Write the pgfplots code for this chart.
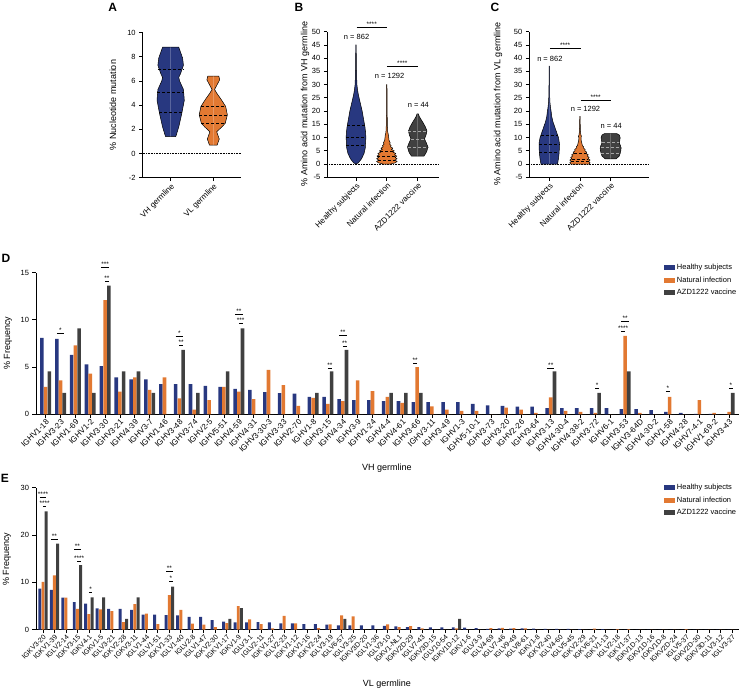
\documentclass[border=0pt]{standalone}
\usepackage{fontspec}
\setmainfont{Liberation Sans}
\usepackage{pgfplots}
\usepackage{pgfplotstable}
\pgfplotsset{compat=1.18}
\definecolor{hblue}{RGB}{40,56,128}
\definecolor{norange}{RGB}{226,121,50}
\definecolor{adark}{RGB}{64,64,64}
\newcommand{\fs}[1]{\fontsize{#1}{#1}\selectfont}

\pgfplotsset{
  panel/.style={
    scale only axis, axis lines=left, axis line style={-, line width=0.8pt},
    tick align=outside, major tick length=3.5pt, tick style={black, line width=0.8pt},
    /pgf/number format/assume math mode=true,
    ticklabel style={font=\fs{7.5}},
    clip=false,
  },
}

% violins: columns y w (half width)
\pgfplotstableread{
y w
1.4 0
1.4 0.12
2.2 0.19
3.3 0.26
4.4 0.32
5.3 0.30
6.0 0.21
6.3 0.19
6.6 0.23
7.3 0.30
7.9 0.28
8.5 0.22
8.8 0.19
8.8 0
}\vAH
\pgfplotstableread{
y w
0.7 0
0.7 0.09
1.2 0.14
1.5 0.11
1.8 0.08
2.2 0.2
2.5 0.28
3.2 0.33
3.9 0.29
4.5 0.18
5.0 0.08
5.3 0.03
5.7 0.09
6.1 0.15
6.4 0.13
6.4 0
}\vAL
\pgfplotstableread{
y w
0 0
0.5 0.08
2 0.18
4 0.26
6 0.30
8 0.31
10 0.32
12 0.31
14 0.29
16 0.26
18 0.23
20 0.20
22 0.16
24 0.12
26 0.08
28 0.05
30 0.03
33 0.02
38 0.012
45 0.005
45 0
}\vBH
\pgfplotstableread{
y w
0 0
0 0.12
0.5 0.28
1 0.33
1.5 0.26
2 0.33
2.5 0.27
3 0.32
3.5 0.25
4 0.29
4.5 0.2
5 0.24
5.5 0.15
6 0.19
6.5 0.12
7 0.14
7.5 0.09
8 0.11
9 0.07
10 0.06
11 0.05
12 0.03
14 0.02
18 0.012
22 0.008
30 0.004
30 0
}\vBN
\pgfplotstableread{
y w
3 0
3 0.2
4 0.26
5 0.3
6.5 0.33
8 0.28
9.5 0.22
11 0.27
12.5 0.3
14 0.25
15.5 0.18
17 0.1
18 0.05
19 0.02
19 0
}\vBA
\pgfplotstableread{
y w
0 0
0 0.27
2 0.30
4 0.32
6 0.33
8 0.33
10 0.30
12 0.24
14 0.18
16 0.12
18 0.08
20 0.06
21 0.045
23 0.025
26 0.012
30 0.008
37 0.004
37 0
}\vCH
\pgfplotstableread{
y w
0 0
0 0.30
0.5 0.33
1 0.28
1.5 0.33
2 0.27
2.5 0.3
3 0.24
3.5 0.27
4 0.2
4.5 0.22
5 0.16
5.5 0.17
6 0.12
6.5 0.12
7 0.08
8 0.06
9 0.04
10 0.035
10.5 0.05
11 0.03
12 0.02
14 0.012
18 0.004
18 0
}\vCN
\pgfplotstableread{
y w
2 0
2 0.18
3 0.28
4 0.31
5 0.33
6 0.34
7 0.32
8 0.28
9 0.3
10 0.31
11 0.28
11.5 0.2
11.5 0
}\vCA

% VH germline frequencies
\pgfplotstableread{
i h n a
1 8.1 2.9 4.55
2 8.0 3.6 2.27
3 6.3 7.3 9.09
4 5.3 4.3 2.27
5 5.1 12.1 13.64
6 3.9 2.4 4.55
7 3.7 3.9 4.55
8 3.7 2.6 2.27
9 3.2 3.9 0
10 3.2 1.7 6.82
11 3.2 0.5 2.27
12 3.0 1.5 0
13 2.9 2.9 4.55
14 2.7 2.4 9.09
15 2.6 1.6 0
16 2.35 4.7 0
17 2.25 3.1 0
18 2.2 0.9 0
19 1.85 1.75 2.27
20 1.85 1.1 4.55
21 1.6 1.4 6.82
22 1.5 3.6 0
23 1.5 2.45 0
24 1.4 1.85 2.27
25 1.4 1.2 2.27
26 1.3 5.0 2.27
27 1.3 0.85 0
28 1.3 0.5 0
29 1.3 0.35 0
30 1.1 0.35 0
31 0.95 0 0
32 0.9 0.7 0
33 0.8 0.5 0
34 0.8 0.15 0
35 0.65 1.8 4.55
36 0.65 0.35 0
37 0.65 0.25 0
38 0.65 0.15 2.27
39 0.65 0 0
40 0.55 8.3 4.55
41 0.55 0.15 0
42 0.45 0 0
43 0.25 1.85 0
44 0.15 0 0
45 0.05 1.5 0
46 0.05 0.15 0
47 0 0.25 2.27
}\tD

% VL germline frequencies
\pgfplotstableread{
i h n a
1 8.7 10.1 25.0
2 8.4 11.5 18.18
3 6.8 6.8 0
4 5.8 4.4 13.64
5 5.5 3.3 6.82
6 4.5 4.3 6.82
7 4.4 3.9 0
8 4.4 1.6 2.27
9 4.2 5.4 6.82
10 3.2 3.4 0
11 3.2 1.2 0
12 3.1 7.3 9.09
13 3.0 4.2 0
14 2.7 1.3 0
15 2.7 1.05 0
16 2.0 0.55 0
17 1.7 1.4 2.27
18 1.55 5.0 4.55
19 1.55 2.2 0
20 1.6 1.2 0
21 1.55 0.3 0
22 1.35 2.9 0
23 1.35 1.35 0
24 1.2 0 0
25 1.2 0.35 0
26 1.05 1.1 0
27 0.9 3.0 2.27
28 0.9 2.8 0
29 0.9 0 0
30 0.9 0 0
31 0.8 1.1 0
32 0.7 0.55 0
33 0.55 0.75 0
34 0.55 0.3 0
35 0.5 0 0
36 0.5 0 0
37 0.5 0.3 2.27
38 0.45 0 0
39 0.35 0 0
40 0.2 0.35 0
41 0.3 0.4 0
42 0.25 0.35 0
43 0.3 0.3 0
44 0.25 0 0
45 0.2 0 0
46 0.2 0 0
47 0.2 0 0
48 0.1 0 0
49 0 0.25 0
50 0.1 0 0
51 0 0.1 0
52 0 0.1 0
53 0 0 0
54 0 0 0
55 0 0 0
56 0 0 0
57 0 0.1 0
58 0 0 0
59 0 0 0
60 0 0 0
61 0 0 0
}\tE

\newcommand{\violin}[3]{%
  \addplot[fill=#3, draw=black, line width=0.5pt, forget plot] table[x expr=#1+\thisrow{w}, y=y]{#2};
  \addplot[fill=#3, draw=black, line width=0.5pt, forget plot] table[x expr=#1-\thisrow{w}, y=y]{#2};
}
\newcommand{\qline}[4]{% x0 y halfwidth color
  \addplot[densely dashed, #4, line width=0.5pt, forget plot] coordinates {({#1-#3},#2) ({#1+#3},#2)};
}
\newcommand{\sig}[4]{%
  \addplot[black, line width=0.7pt, forget plot] coordinates {(#1,#3) (#2,#3)}
    node[pos=0.5, anchor=base, inner sep=0pt, yshift=0.8pt, font=\fs{6.5}] {#4};
}

\begin{document}
\begin{tikzpicture}
\useasboundingbox (0pt,0pt) rectangle (740pt,689pt);

% ---------------- Panel A
\begin{axis}[panel, at={(142.7pt,511.3pt)}, anchor=south west, width=98.3pt, height=145pt,
  xmin=0.344, xmax=2.65, ymin=-2, ymax=10, ytick={-2,0,...,10},
  xtick={1,2}, xticklabels={VH germline, VL germline},
  xticklabel style={rotate=45, anchor=north east, inner sep=1pt, font=\fs{8}}]
\addplot[densely dotted, black, line width=0.6pt, forget plot] coordinates {(0.344,0) (2.65,0)};
\violin{1}{\vAH}{hblue}
\violin{2}{\vAL}{norange}
\qline{1}{7.0}{0.30}{black}
\qline{1}{5.05}{0.31}{black}
\qline{1}{3.4}{0.27}{black}
\qline{2}{3.9}{0.29}{black}
\qline{2}{3.2}{0.33}{black}
\qline{2}{2.5}{0.28}{black}
\end{axis}
\node[font=\bfseries\fs{12}] at (112.7pt,681.7pt) {A};
\node[rotate=90, font=\fs{9}] at (113pt,584pt) {\% Nucleotide mutation};

% ---------------- Panel B
\begin{axis}[panel, at={(327.3pt,511.7pt)}, anchor=south west, width=111.7pt, height=145.6pt,
  xmin=0.07, xmax=3.69, ymin=-5, ymax=50, ytick={-5,0,...,50},
  xtick={1,2,3}, xticklabels={Healthy subjects, Natural infection, AZD1222 vaccine},
  xticklabel style={rotate=45, anchor=north east, inner sep=1pt, font=\fs{8}}]
\addplot[densely dotted, black, line width=0.6pt, forget plot] coordinates {(0.07,0) (3.69,0)};
\violin{1}{\vBH}{hblue}
\violin{2}{\vBN}{norange}
\violin{3}{\vBA}{adark}
\qline{1}{14.7}{0.28}{black}
\qline{1}{10.3}{0.32}{black}
\qline{1}{7.0}{0.31}{black}
\qline{2}{4.8}{0.22}{black}
\qline{2}{3.1}{0.31}{black}
\qline{2}{1.6}{0.28}{black}
\qline{3}{12.3}{0.30}{gray!70}
\qline{3}{9.3}{0.23}{gray!70}
\qline{3}{6.2}{0.33}{gray!70}
\sig{1.02}{2.0}{51.5}{****}
\sig{2.0}{3.0}{36.8}{****}
\node[font=\fs{7.5}] at (axis cs:1.02,48.1) {n = 862};
\node[font=\fs{7.5}] at (axis cs:2.09,33.3) {n = 1292};
\node[font=\fs{7.5}] at (axis cs:3.02,22.2) {n = 44};
\end{axis}
\node[font=\bfseries\fs{12}] at (299pt,682pt) {B};
\node[rotate=90, font=\fs{9}] at (305pt,585pt) {\% Amino acid mutation from VH germline};

% ---------------- Panel C
\begin{axis}[panel, at={(529.3pt,511.7pt)}, anchor=south west, width=119.7pt, height=145.6pt,
  xmin=0.35, xmax=4.25, ymin=-5, ymax=50, ytick={-5,0,...,50},
  xtick={1,2,3}, xticklabels={Healthy subjects, Natural infection, AZD1222 vaccine},
  xticklabel style={rotate=45, anchor=north east, inner sep=1pt, font=\fs{8}}]
\addplot[densely dotted, black, line width=0.6pt, forget plot] coordinates {(0.35,0) (4.25,0)};
\violin{1}{\vCH}{hblue}
\violin{2}{\vCN}{norange}
\violin{3}{\vCA}{adark}
\qline{1}{10.8}{0.28}{black}
\qline{1}{7.5}{0.33}{black}
\qline{1}{4.3}{0.32}{black}
\qline{2}{4.0}{0.20}{black}
\qline{2}{2.0}{0.27}{black}
\qline{2}{1.0}{0.28}{black}
\qline{3}{8.2}{0.28}{gray!70}
\qline{3}{6.2}{0.33}{gray!70}
\qline{3}{4.2}{0.31}{gray!70}
\sig{1.02}{2.02}{43.6}{****}
\sig{2.02}{3.0}{24.2}{****}
\node[font=\fs{7.5}] at (axis cs:1.02,39.6) {n = 862};
\node[font=\fs{7.5}] at (axis cs:2.18,20.8) {n = 1292};
\node[font=\fs{7.5}] at (axis cs:3.02,14.4) {n = 44};
\end{axis}
\node[font=\bfseries\fs{12}] at (495pt,682pt) {C};
\node[rotate=90, font=\fs{9}] at (498pt,585pt) {\% Amino acid mutation from VL germline};

% ---------------- Panel D
\begin{axis}[panel, at={(36pt,274.7pt)}, anchor=south west, width=703pt, height=141.6pt,
  xmin=0.35, xmax=47.67, ymin=0, ymax=15, ytick={0,5,10,15},
  xtick={1,...,47},
  xticklabels={IGHV1-18,IGHV3-23,IGHV1-69,IGHV1-2,IGHV3-30,IGHV3-21,IGHV4-39,IGHV3-7,IGHV1-46,IGHV3-48,IGHV3-74,IGHV2-5,IGHV5-51,IGHV4-59,IGHV4-31,IGHV3-30-3,IGHV3-33,IGHV2-70,IGHV1-8,IGHV3-15,IGHV4-34,IGHV3-9,IGHV1-24,IGHV4-4,IGHV4-61,IGHV3-66,IGHV3-11,IGHV3-49,IGHV1-3,IGHV5-10-1,IGHV3-73,IGHV3-20,IGHV2-26,IGHV3-64,IGHV3-13,IGHV4-30-4,IGHV4-38-2,IGHV3-72,IGHV6-1,IGHV3-53,IGHV3-64D,IGHV4-30-2,IGHV1-58,IGHV4-28,IGHV7-4-1,IGHV1-69-2,IGHV3-43},
  xticklabel style={rotate=45, anchor=north east, inner sep=0.5pt, font=\fs{8}},
  legend style={at={(0.893,1.075)}, anchor=north west, draw=none, fill=none, font=\fs{7.5}, row sep=1.5pt, inner sep=0pt, cells={anchor=west}},
  legend image code/.code={\fill[#1] (0pt,-2.5pt) rectangle (11pt,2.5pt);}]
\addplot[ybar, bar width=0.24, bar shift=-0.25, fill=hblue, draw=none] table[x=i, y=h]{\tD};
\addlegendentry{Healthy subjects}
\addplot[ybar, bar width=0.24, bar shift=0, fill=norange, draw=none] table[x=i, y=n]{\tD};
\addlegendentry{Natural infection}
\addplot[ybar, bar width=0.24, bar shift=0.25, fill=adark, draw=none] table[x=i, y=a]{\tD};
\addlegendentry{AZD1222 vaccine}
\sig{1.75}{2.25}{8.55}{*}
\sig{4.75}{5.25}{15.6}{***}
\sig{5.0}{5.25}{14.1}{**}
\sig{9.75}{10.25}{8.3}{*}
\sig{10.0}{10.25}{7.3}{**}
\sig{13.75}{14.25}{10.6}{**}
\sig{14.0}{14.25}{9.6}{***}
\sig{20.0}{20.25}{4.85}{**}
\sig{20.75}{21.25}{8.4}{**}
\sig{21.0}{21.25}{7.2}{**}
\sig{25.75}{26.0}{5.35}{**}
\sig{34.75}{35.25}{4.85}{**}
\sig{38.0}{38.25}{2.75}{*}
\sig{39.75}{40.25}{9.8}{**}
\sig{39.75}{40.0}{8.75}{****}
\sig{42.75}{43.0}{2.4}{*}
\sig{47.0}{47.25}{2.75}{*}
\end{axis}
\node[font=\bfseries\fs{12}] at (6pt,431pt) {D};
\node[rotate=90, font=\fs{9}] at (8pt,346pt) {\% Frequency};
\node[font=\fs{9}] at (387pt,221pt) {VH germline};

% ---------------- Panel E
\begin{axis}[panel, at={(36pt,59.3pt)}, anchor=south west, width=703pt, height=142pt,
  xmin=0.39, xmax=61.6, ymin=0, ymax=30, ytick={0,10,20,30},
  xtick={1,...,61},
  xticklabels={IGKV3-20,IGKV1-39,IGLV2-14,IGKV3-15,IGKV4-1,IGKV1-5,IGLV3-21,IGKV2-28,IGKV3-11,IGLV1-44,IGLV1-51,IGKV1-33,IGLV1-40,IGLV2-8,IGLV1-47,IGKV2-30,IGKV1-17,IGKV1-9,IGLV3-1,IGLV2-11,IGKV1-27,IGLV2-23,IGKV1-12,IGKV1-16,IGKV2-24,IGLV3-19,IGLV6-57,IGLV3-25,IGKV3D-20,IGLV1-36,IGLV3-10,IGKV1-NL1,IGKV2D-29,IGLV7-43,IGKV3D-15,IGLV10-54,IGKV1D-12,IGKV1-6,IGLV3-9,IGLV4-69,IGLV7-46,IGLV9-49,IGLV8-61,IGKV1-8,IGKV2-40,IGLV4-60,IGLV5-45,IGKV2-29,IGKV6-21,IGKV1-13,IGLV2-18,IGKV1-37,IGKV1D-13,IGKV1D-16,IGKV1D-8,IGKV2D-24,IGLV5-37,IGKV2D-30,IGKV3D-11,IGLV3-12,IGLV3-27},
  xticklabel style={rotate=45, anchor=north east, inner sep=0.5pt, font=\fs{7}},
  legend style={at={(0.893,1.04)}, anchor=north west, draw=none, fill=none, font=\fs{7.5}, row sep=1.5pt, inner sep=0pt, cells={anchor=west}},
  legend image code/.code={\fill[#1] (0pt,-2.5pt) rectangle (11pt,2.5pt);}]
\addplot[ybar, bar width=0.26, bar shift=-0.28, fill=hblue, draw=none] table[x=i, y=h]{\tE};
\addlegendentry{Healthy subjects}
\addplot[ybar, bar width=0.26, bar shift=0, fill=norange, draw=none] table[x=i, y=n]{\tE};
\addlegendentry{Natural infection}
\addplot[ybar, bar width=0.26, bar shift=0.28, fill=adark, draw=none] table[x=i, y=a]{\tE};
\addlegendentry{AZD1222 vaccine}
\sig{0.72}{1.28}{27.9}{****}
\sig{1.0}{1.28}{26.0}{****}
\sig{1.72}{2.28}{19.1}{**}
\sig{3.72}{4.28}{17.0}{**}
\sig{4.0}{4.28}{14.5}{****}
\sig{5.0}{5.28}{7.9}{*}
\sig{11.72}{12.28}{12.4}{**}
\sig{12.0}{12.28}{10.3}{*}
\end{axis}
\node[font=\bfseries\fs{12}] at (5pt,211pt) {E};
\node[rotate=90, font=\fs{9}] at (7pt,130pt) {\% Frequency};
\node[font=\fs{9}] at (387pt,5pt) {VL germline};
\end{tikzpicture}
\end{document}
